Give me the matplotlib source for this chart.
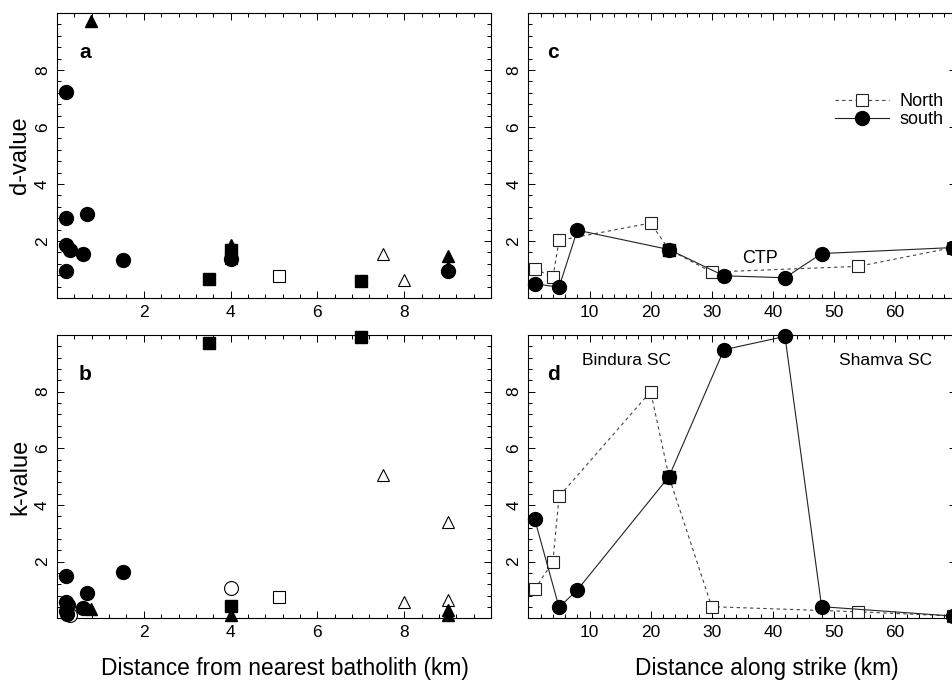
import numpy as np
import matplotlib
matplotlib.use('Agg')
import matplotlib.pyplot as plt
from matplotlib.ticker import MultipleLocator, FixedLocator

plt.rcParams['font.family'] = ['Liberation Sans', 'DejaVu Sans']

################################## DATA ##################################

# Panel a: d-value vs distance from nearest batholith (km)
a_fcirc_x = [0.21, 0.21, 0.70, 0.21, 0.29, 0.61, 0.21, 1.52, 9.0, 4.0]
a_fcirc_y = [7.24, 2.79, 2.94, 1.85, 1.67, 1.53, 0.95, 1.35, 0.95, 1.38]
a_ftri_x = [0.78, 4.0, 9.0, 9.0]
a_ftri_y = [9.73, 1.85, 1.46, 1.10]
a_fsq_x = [3.51, 7.01, 4.0]
a_fsq_y = [0.68, 0.58, 1.70]
a_osq_x = [5.12, 4.0]
a_osq_y = [0.76, 1.42]
a_otri_x = [7.52, 8.0]
a_otri_y = [1.53, 0.64]

# Panel b: k-value vs distance from nearest batholith (km)
b_fcirc_x = [0.21, 1.52, 0.70, 0.21, 0.26, 0.21, 0.23, 0.61]
b_fcirc_y = [1.49, 1.62, 0.91, 0.59, 0.48, 0.25, 0.14, 0.38]
b_ocirc_x = [4.0, 0.30]
b_ocirc_y = [1.06, 0.10]
b_fsq_x = [3.51, 7.0, 4.0]
b_fsq_y = [9.72, 9.93, 0.43]
b_osq_x = [5.12]
b_osq_y = [0.74]
b_otri_x = [7.52, 9.0, 8.0, 9.0]
b_otri_y = [5.06, 3.41, 0.59, 0.66]
b_ftri_x = [0.78, 4.0, 9.0, 9.0]
b_ftri_y = [0.33, 0.12, 0.30, 0.12]

# Panels c, d: distance along strike (km)
north_x = [1, 4, 5, 20, 23, 30, 54, 69.5]
north_d = [1.03, 0.74, 2.02, 2.63, 1.70, 0.91, 1.11, 1.77]
north_k = [1.02, 2.0, 4.3, 8.0, 5.0, 0.41, 0.23, 0.08]

south_x = [1, 5, 8, 23, 32, 42, 48, 69.5]
south_d = [0.50, 0.38, 2.38, 1.70, 0.78, 0.71, 1.56, 1.77]
south_k = [3.51, 0.39, 1.0, 5.0, 9.48, 9.95, 0.41, 0.08]

shared_x = [23]
shared_d = [1.70]
shared_k = [5.0]

xticks_left = [2, 4, 6, 8]
xticks_right = [10, 20, 30, 40, 50, 60]
yticks = [2, 4, 6, 8]

################################## PLOT ##################################

fig = plt.figure(figsize=(9.53, 6.8), dpi=100)

W, H = 953., 680.
def box(l, r, t, b):
    return [l / W, 1 - b / H, (r - l) / W, (b - t) / H]

ax_a = fig.add_axes(box(57, 491, 13, 298))
ax_b = fig.add_axes(box(57, 491, 335, 618.3))
ax_c = fig.add_axes(box(528.5, 956, 13, 298))
ax_d = fig.add_axes(box(528.5, 956, 335, 618.3))

def style(ax, left):
    ax.set_ylim(0, 10)
    if left:
        ax.set_xlim(0, 10)
        ax.xaxis.set_major_locator(FixedLocator(xticks_left))
        ax.xaxis.set_minor_locator(MultipleLocator(0.4))
    else:
        ax.set_xlim(0, 70)
        ax.xaxis.set_major_locator(FixedLocator(xticks_right))
        ax.xaxis.set_minor_locator(MultipleLocator(2))
    ax.yaxis.set_major_locator(FixedLocator(yticks))
    ax.yaxis.set_minor_locator(MultipleLocator(0.4))
    ax.tick_params(which='both', direction='in', top=True, right=True,
                   width=0.7, labelsize=12.5)
    ax.tick_params(which='major', length=5, pad=5)
    ax.tick_params(which='minor', length=3)
    for lab in ax.get_yticklabels():
        lab.set_rotation(90)
        lab.set_va('center')
    for s in ax.spines.values():
        s.set_linewidth(0.8)

for ax, left in [(ax_a, True), (ax_b, True), (ax_c, False), (ax_d, False)]:
    style(ax, left)

k = dict(clip_on=False, zorder=3)
fc = dict(marker='o', color='black', markersize=10, linestyle='none', **k)
oc = dict(marker='o', markerfacecolor='white', markeredgecolor='black', markersize=10,
          markeredgewidth=0.8, linestyle='none', **k)
fs = dict(marker='s', color='black', markersize=9, linestyle='none', **k)
osq = dict(marker='s', markerfacecolor='white', markeredgecolor='black', markersize=9,
           markeredgewidth=0.8, linestyle='none', **k)
ft = dict(marker='^', color='black', markersize=9, linestyle='none', **k)
ot = dict(marker='^', markerfacecolor='white', markeredgecolor='black', markersize=9,
          markeredgewidth=0.8, linestyle='none', **k)

# panel a
ax_a.plot(a_osq_x, a_osq_y, **osq)
ax_a.plot(a_otri_x, a_otri_y, **ot)
ax_a.plot(a_fcirc_x, a_fcirc_y, **fc)
ax_a.plot(a_fsq_x, a_fsq_y, **fs)
ax_a.plot(a_ftri_x, a_ftri_y, **ft)

# panel b
ax_b.plot(b_ocirc_x, b_ocirc_y, **oc)
ax_b.plot(b_osq_x, b_osq_y, **osq)
ax_b.plot(b_otri_x, b_otri_y, **ot)
ax_b.plot(b_fcirc_x, b_fcirc_y, **fc)
ax_b.plot(b_fsq_x, b_fsq_y, **fs)
ax_b.plot(b_ftri_x, b_ftri_y, **ft)

# panels c and d
for ax, nv, sv, shv in [(ax_c, north_d, south_d, shared_d), (ax_d, north_k, south_k, shared_k)]:
    ax.plot(north_x, nv, linestyle=(0, (3, 3)), color='#444444', linewidth=0.8,
            marker='s', markersize=8, markerfacecolor='white', markeredgecolor='#222222',
            markeredgewidth=0.8, label='North', clip_on=False, zorder=2)
    ax.plot(south_x, sv, linestyle='-', color='#222222', linewidth=0.8,
            marker='o', markersize=10, markerfacecolor='black', markeredgecolor='black',
            label='south', clip_on=False, zorder=3)
    ax.plot(shared_x, shv, **fs)

ax_c.legend(loc='upper right', bbox_to_anchor=(1.01, 0.775), frameon=False,
            fontsize=13, handlelength=3.0, handletextpad=0.6, labelspacing=0.05)

# panel letters and annotations
for ax, letter in [(ax_a, 'a'), (ax_b, 'b'), (ax_c, 'c'), (ax_d, 'd')]:
    ax.text(0.065 if ax in (ax_a, ax_b) else 0.058, 0.86, letter, transform=ax.transAxes,
            fontsize=15, fontweight='bold', ha='center', va='center')

ax_c.text(37.9, 1.4, 'CTP', fontsize=13, ha='center', va='center')
ax_d.text(16, 9.1, 'Bindura SC', fontsize=12.5, ha='center', va='center')
ax_d.text(58.5, 9.1, 'Shamva SC', fontsize=12.5, ha='center', va='center')

ax_a.set_ylabel('d-value', fontsize=17, labelpad=3)
ax_b.set_ylabel('k-value', fontsize=17, labelpad=3)
fig.text(285 / W, 1 - 668 / H, 'Distance from nearest batholith (km)', fontsize=16.4,
         ha='center', va='center')
fig.text(766.7 / W, 1 - 668 / H, 'Distance along strike (km)', fontsize=16.4,
         ha='center', va='center')

plt.savefig('out.png', dpi=100)
